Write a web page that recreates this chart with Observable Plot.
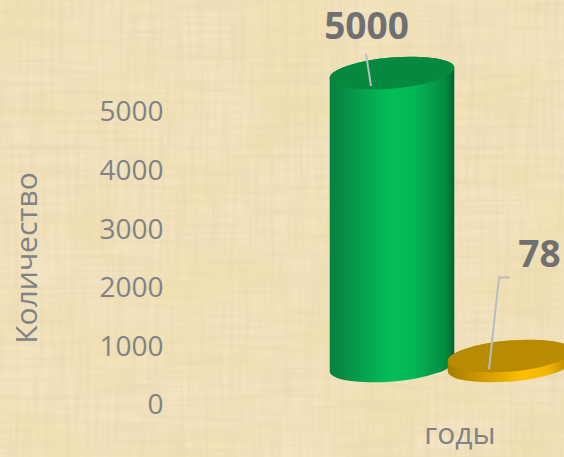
<!DOCTYPE html>
<html><head><meta charset="utf-8">
<script src="https://cdn.jsdelivr.net/npm/d3@7"></script>
<script src="https://cdn.jsdelivr.net/npm/@observablehq/plot@0.6"></script>
<style>
html,body{margin:0;padding:0;width:564px;height:457px;overflow:hidden;background:#f0e0bb}
#paper{position:absolute;left:0;top:0}
#chart{position:absolute;left:0;top:0}
</style></head><body>
<svg id="paper" width="564" height="457" xmlns="http://www.w3.org/2000/svg">
<defs>
<filter id="blot" x="0" y="0" width="100%" height="100%"><feTurbulence type="fractalNoise" baseFrequency="0.012 0.016" numOctaves="3" seed="4"/><feColorMatrix values="0 0 0 0 0.88  0 0 0 0 0.76  0 0 0 0 0.44  2.6 0 0 0 -0.95"/></filter>
<filter id="warp" x="0" y="0" width="100%" height="100%"><feTurbulence type="fractalNoise" baseFrequency="0.2 0.012" numOctaves="2" seed="9"/><feColorMatrix values="0 0 0 0 0.82  0 0 0 0 0.70  0 0 0 0 0.44  1.6 0 0 0 -0.62"/></filter>
<filter id="weft" x="0" y="0" width="100%" height="100%"><feTurbulence type="fractalNoise" baseFrequency="0.012 0.2" numOctaves="2" seed="13"/><feColorMatrix values="0 0 0 0 0.82  0 0 0 0 0.70  0 0 0 0 0.44  1.6 0 0 0 -0.62"/></filter>
</defs>
<rect width="564" height="457" fill="#f3e4c2"/>
<rect width="564" height="457" filter="url(#blot)"/>
<rect width="564" height="457" filter="url(#warp)"/>
<rect width="564" height="457" filter="url(#weft)"/>
</svg>
<div id="chart"></div>
<script>
const series = ["A", "B"];
const values = [5000, 78];
const yTicks = [0, 1000, 2000, 3000, 4000, 5000];
const yTitle = "Количество";
const xTitle = "годы";
const rows = series.map((name, i) => ({name, value: values[i]}));

const font = "'Open Sans', 'Noto Sans', sans-serif";
const textGrey = "#7f8387";
const labelGrey = "#6f7073";
const leaderGrey = "#b9bdc2";
const rx = 62.5, ry = 15.5, tilt = 5, depth = 39, minThick = 10;
const skins = [
  {id: "gGreen", top: "#04893f", stops: [[0, "#06803e"], [.5, "#04be5a"], [.68, "#04b656"], [.93, "#048a42"], [1, "#04602f"]]},
  {id: "gGold", top: "#b78c00", stops: [[0, "#a87c00"], [.6, "#fdbf00"], [.8, "#f2b600"], [1, "#b08300"]]}
];

function cylinders(index, scales) {
  const ns = "http://www.w3.org/2000/svg";
  const g = d3.select(document.createElementNS(ns, "g"));
  const defs = g.append("defs");
  const dy = rx * Math.sin(tilt * Math.PI / 180);
  const dx = rx * Math.cos(tilt * Math.PI / 180);
  rows.forEach((d, i) => {
    const s = skins[i];
    const grad = defs.append("linearGradient").attr("id", s.id);
    s.stops.forEach(([o, c]) => grad.append("stop").attr("offset", o).attr("stop-color", c));
    const cx = scales.x(d.name);
    const base = scales.y(0) - depth;
    const top = Math.min(scales.y(d.value) - depth, base - minThick);
    const arc = `A${rx},${ry} ${-tilt} 0 0`;
    g.append("path")
      .attr("fill", `url(#${s.id})`)
      .attr("d", `M${cx - dx},${top + dy}L${cx - dx},${base + dy}${arc} ${cx + dx},${base - dy}L${cx + dx},${top - dy}${arc} ${cx - dx},${top + dy}Z`);
    g.append("ellipse")
      .attr("rx", rx).attr("ry", ry)
      .attr("transform", `translate(${cx},${top}) rotate(${-tilt})`)
      .attr("fill", s.top);
  });
  return g.node();
}

function leaders(index, scales) {
  const ns = "http://www.w3.org/2000/svg";
  const g = d3.select(document.createElementNS(ns, "g"))
    .attr("fill", "none").attr("stroke", leaderGrey).attr("stroke-width", 2);
  const cA = scales.x(series[0]), yA = scales.y(values[0]);
  g.append("path").attr("d", `M${cA - 26},${yA - 58}L${cA - 21},${yA - 26}`);
  const cB = scales.x(series[1]), yB = scales.y(values[1]);
  g.append("path").attr("d", `M${cB},${yB - 123}L${cB - 11},${yB - 123}L${cB - 21},${yB - 31}`);
  return g.node();
}

const chart = Plot.plot({
  width: 564, height: 457,
  marginLeft: 163, marginRight: 0, marginTop: 112, marginBottom: 52,
  style: {background: "transparent", fontFamily: font, overflow: "hidden"},
  x: {type: "point", domain: series, range: [392, 510], padding: 0, axis: null},
  y: {domain: [0, 5000]},
  marks: [
    cylinders,
    leaders,
    Plot.axisY({
      ticks: yTicks, tickSize: 0, tickPadding: 0, anchor: "left",
      tickFormat: d => String(d), fontSize: 28, color: textGrey,
      label: null
    }),
    Plot.text([yTitle], {frameAnchor: "left", rotate: -90, textAnchor: "middle", dx: -136, dy: -1, fontSize: 30, fill: textGrey, text: d => d}),
    Plot.text([xTitle], {frameAnchor: "bottom-right", dx: -69, dy: 38, fontSize: 30, fill: textGrey, text: d => d}),
    Plot.text(rows.slice(0, 1), {x: "name", y: "value", text: d => String(d.value), dx: -26, dy: -85, fontSize: 37, fontWeight: 700, fill: labelGrey}),
    Plot.text(rows.slice(1), {x: "name", y: "value", text: d => String(d.value), dx: 29, dy: -146, fontSize: 37, fontWeight: 700, fill: labelGrey})
  ]
});
document.getElementById("chart").appendChild(chart);
</script>
</body></html>
